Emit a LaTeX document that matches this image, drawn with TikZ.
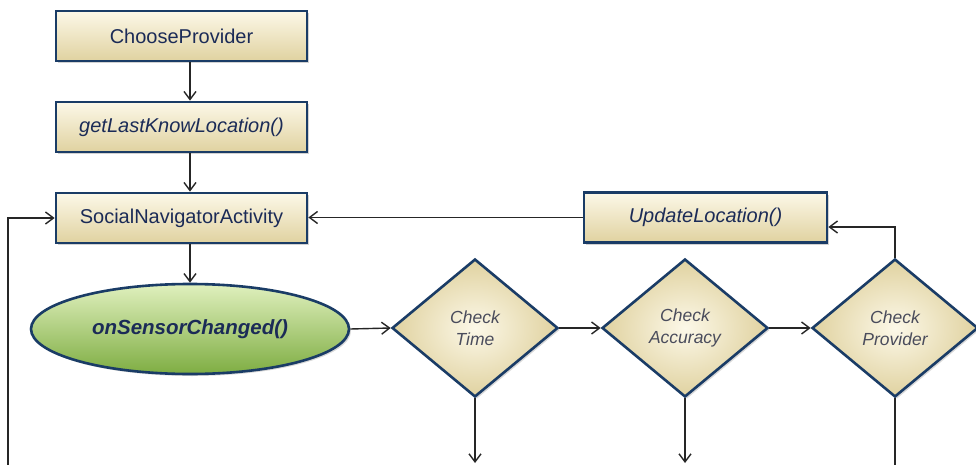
\documentclass[tikz,border=0pt]{standalone}
\usepackage{fontspec}
\setmainfont{Liberation Sans}
\usetikzlibrary{shapes.geometric, shadows, arrows.meta, calc}

\definecolor{edgeblue}{HTML}{1A3C66}
\definecolor{navytext}{HTML}{1B2B57}
\definecolor{greytext}{HTML}{4A4C5C}
\definecolor{creamtop}{HTML}{FCF8E8}
\definecolor{creammid}{HTML}{F6EFD3}
\definecolor{creambot}{HTML}{E0D2A0}
\definecolor{greentop}{HTML}{E0F0BE}
\definecolor{greenmid}{HTML}{BCDA88}
\definecolor{greenbot}{HTML}{7EAD42}

\begin{document}
\begin{tikzpicture}[x=1pt, y=-1pt,
    box/.style={draw=edgeblue, line width=2.8pt, top color=creamtop,
        middle color=creammid, bottom color=creambot, inner sep=0pt,
        minimum width=251pt, minimum height=50pt, text=navytext,
        font=\fontsize{20}{24}\selectfont,
        drop shadow={shadow xshift=2pt, shadow yshift=-2pt, opacity=0.35}},
    decision/.style={diamond, draw=edgeblue, line width=2.6pt,
        inner color=creamtop, outer color=creambot, inner sep=0pt,
        minimum width=166pt, minimum height=138pt, align=center,
        text=greytext, font=\fontsize{17.5}{22}\selectfont\itshape,
        drop shadow={shadow xshift=2pt, shadow yshift=-2pt, opacity=0.3}},
    event/.style={ellipse, draw=edgeblue, line width=2.6pt, top color=greentop,
        middle color=greenmid, bottom color=greenbot, inner sep=0pt,
        minimum width=318pt, minimum height=90pt, text=navytext,
        font=\fontsize{20.5}{24}\selectfont\bfseries\itshape,
        drop shadow={shadow xshift=2pt, shadow yshift=-2pt, opacity=0.3}},
    link/.style={line width=1.4pt, draw=black!85,
        -{Straight Barb[length=8pt, width=12pt, line width=1.4pt]}}]

    \useasboundingbox[fill=white] (0,0) rectangle (976,465);

    % start-up chain
    \node[box] (c1) at (181.5, 36) {ChooseProvider};
    \node[box] (c2) at (181.5, 127) {\itshape getLastKnowLocation()};
    \node[box] (c3) at (181.5, 218) {SocialNavigatorActivity};
    \node[event] (e1) at (190, 329) {onSensorChanged()};

    % checks
    \node[decision] (d1) at (475, 328) {Check\\Time};
    \node[decision] (d2) at (685, 328) {Check\\Accuracy};
    \node[decision] (d3) at (895, 328) {Check\\Provider};
    \node[box, minimum width=243pt] (c4) at (705.5, 217.5) {\itshape UpdateLocation()};

    % loose ends at the bottom
    \coordinate (l0) at (8, 465);
    \coordinate (o1) at (475, 463);
    \coordinate (o2) at (685, 463);
    \coordinate (o3) at (895, 465);

    \draw[link] (c1.south -| e1) -- (c2.north -| e1);
    \draw[link] (c2.south -| e1) -- (c3.north -| e1);
    \draw[link] (c3.south -| e1) -- (e1.north);
    \draw[link] (e1.east) -- (d1.west);
    \draw[link] (d1.east) -- (d2.west);
    \draw[link] (d2.east) -- (d3.west);
    \draw[link] (d3.north) |- ([yshift=-9.5pt]c4.east);
    \draw[link] (c4.west) -- (c4.west -| c3.east);
    \draw[link] (l0) |- (c3.west);
    \draw[link] (d1.south) -- (o1);
    \draw[link] (d2.south) -- (o2);
    \draw[line width=1.4pt, draw=black!85] (d3.south) -- (o3);
\end{tikzpicture}
\end{document}
